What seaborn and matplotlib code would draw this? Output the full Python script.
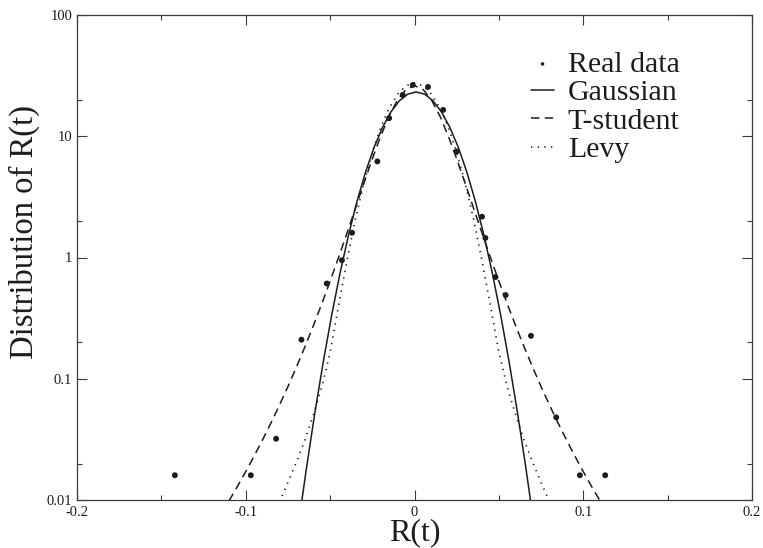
import matplotlib
matplotlib.use("Agg")
import matplotlib.pyplot as plt
from matplotlib.ticker import FixedLocator, FixedFormatter, MultipleLocator, NullFormatter
import seaborn as sns

# Empirical distribution of the returns R(t)
real_r = [-0.142, -0.097, -0.082, -0.067, -0.052, -0.043, -0.037, -0.022, -0.015,
          -0.007, -0.001, 0.008, 0.017, 0.025, 0.040, 0.042, 0.048, 0.054, 0.069,
          0.084, 0.098, 0.113]
real_density = [0.016, 0.016, 0.032, 0.21, 0.61, 0.95, 1.6, 6.2, 14.1,
                21.9, 26.5, 25.5, 16.5, 7.5, 2.17, 1.45, 0.69, 0.49, 0.226,
                0.048, 0.016, 0.016]

# Fitted Gaussian density
gauss_r = [-0.067, -0.064, -0.059, -0.054, -0.049, -0.044, -0.039, -0.034, -0.029,
           -0.024, -0.019, -0.014, -0.009, -0.004, 0.001, 0.006, 0.011, 0.016,
           0.021, 0.026, 0.031, 0.036, 0.041, 0.046, 0.051, 0.056, 0.061, 0.066, 0.069]
gauss_density = [0.00935, 0.0184, 0.0529, 0.1396, 0.339, 0.757, 1.552, 2.93, 5.07,
                 8.07, 11.80, 15.86, 19.59, 22.24, 23.2, 22.24, 19.59, 15.86,
                 11.80, 8.07, 5.07, 2.93, 1.552, 0.757, 0.339, 0.1396, 0.0529, 0.0184, 0.00935]

# Fitted Student-t density
student_r = [-0.110, -0.105, -0.100, -0.095, -0.090, -0.085, -0.080, -0.075, -0.070,
             -0.065, -0.060, -0.055, -0.050, -0.045, -0.040, -0.035, -0.030, -0.025,
             -0.020, -0.015, -0.010, -0.005, 0.000, 0.005, 0.010, 0.015, 0.020,
             0.025, 0.030, 0.035, 0.040, 0.045, 0.050, 0.055, 0.060, 0.065, 0.070,
             0.075, 0.080, 0.085, 0.090, 0.095, 0.100, 0.105, 0.110]
student_density = [0.0098, 0.01289, 0.01715, 0.02308, 0.03145, 0.0434, 0.0607, 0.0862, 0.1245,
                   0.1825, 0.2723, 0.4134, 0.638, 1.001, 1.592, 2.552, 4.10, 6.51,
                   10.05, 14.75, 20.00, 24.37, 26.1, 24.37, 20.00, 14.75, 10.05,
                   6.51, 4.10, 2.552, 1.592, 1.001, 0.638, 0.4134, 0.2723, 0.1825, 0.1245,
                   0.0862, 0.0607, 0.0434, 0.03145, 0.02308, 0.01715, 0.01289, 0.0098]

# Fitted Levy density
levy_r = [-0.080, -0.075, -0.070, -0.065, -0.060, -0.055, -0.050, -0.045, -0.040,
          -0.035, -0.030, -0.025, -0.020, -0.015, -0.010, -0.005, 0.000, 0.005,
          0.010, 0.015, 0.020, 0.025, 0.030, 0.035, 0.040, 0.045, 0.050, 0.055,
          0.060, 0.065, 0.070, 0.075, 0.080]
levy_density = [0.0096, 0.0140, 0.0205, 0.031, 0.050, 0.085, 0.165, 0.40, 0.942,
                2.078, 4.12, 7.36, 11.83, 17.11, 22.27, 26.09, 27.5, 26.09,
                22.27, 17.11, 11.83, 7.36, 4.12, 2.078, 0.942, 0.40, 0.165, 0.085,
                0.050, 0.031, 0.0205, 0.0140, 0.0096]

x_ticks = [-0.2, -0.1, 0.0, 0.1, 0.2]
x_tick_labels = ["-0.2", "-0.1", "0", "0.1", "0.2"]
y_ticks = [0.01, 0.1, 1, 10, 100]
y_tick_labels = ["0.01", "0.1", "1", "10", "100"]
y_minor_ticks = [0.02, 0.2, 2, 20]

sns.set_theme(style="ticks")
plt.rcParams["font.family"] = ["Liberation Serif", "DejaVu Serif"]

ink = "#1c1c1c"
frame = "#3a3a3a"

fig = plt.figure(figsize=(7.63, 5.48), dpi=100)
ax = fig.add_axes([77 / 763, 1 - 500 / 548, 675 / 763, 485 / 548])

sns.scatterplot(x=real_r, y=real_density, ax=ax, color=ink, s=18,
                edgecolor="none", label="Real data", zorder=4)
sns.lineplot(x=gauss_r, y=gauss_density, ax=ax, color=ink, linewidth=1.1,
             label="Gaussian", zorder=3)
sns.lineplot(x=student_r, y=student_density, ax=ax, color=ink, linewidth=1.1,
             linestyle=(0, (5.5, 3.5)), label="T-student", zorder=3)
sns.lineplot(x=levy_r, y=levy_density, ax=ax, color=ink, linewidth=1.2,
             linestyle=(0, (0.8, 3.2)), label="Levy", zorder=3)

ax.set_yscale("log")
ax.set_xlim(-0.2, 0.2)
ax.set_ylim(0.01, 100)

ax.xaxis.set_major_locator(FixedLocator(x_ticks))
ax.xaxis.set_major_formatter(FixedFormatter(x_tick_labels))
ax.xaxis.set_minor_locator(MultipleLocator(0.05))
ax.yaxis.set_major_locator(FixedLocator(y_ticks))
ax.yaxis.set_major_formatter(FixedFormatter(y_tick_labels))
ax.yaxis.set_minor_locator(FixedLocator(y_minor_ticks))
ax.yaxis.set_minor_formatter(NullFormatter())

ax.tick_params(which="both", direction="in", top=True, right=True,
               color=frame, width=0.8, labelsize=10.5, labelcolor=ink)
ax.tick_params(which="major", length=7)
ax.tick_params(which="minor", length=3.5)
ax.tick_params(axis="x", pad=4)
ax.tick_params(axis="y", pad=3.5)

for spine in ax.spines.values():
    spine.set_color(frame)
    spine.set_linewidth(0.9)

ax.set_xlabel("R(t)", fontsize=23, color=ink, labelpad=0)
ax.set_ylabel("Distribution of R(t)", fontsize=23.5, color=ink)
ax.yaxis.set_label_coords(-0.055, 0.553)

handles, labels = ax.get_legend_handles_labels()
order = ["Real data", "Gaussian", "T-student", "Levy"]
hmap = dict(zip(labels, handles))
leg = ax.legend([hmap[k] for k in order], order, loc="upper left",
                bbox_to_anchor=(0.672, 0.926), frameon=False, fontsize=21.5,
                handlelength=0.8, handletextpad=0.45, labelspacing=0.05,
                borderpad=0, borderaxespad=0, markerscale=0.6, scatterpoints=1)
for t in leg.get_texts():
    t.set_color(ink)

fig.savefig("out.png", dpi=100, facecolor="white")
